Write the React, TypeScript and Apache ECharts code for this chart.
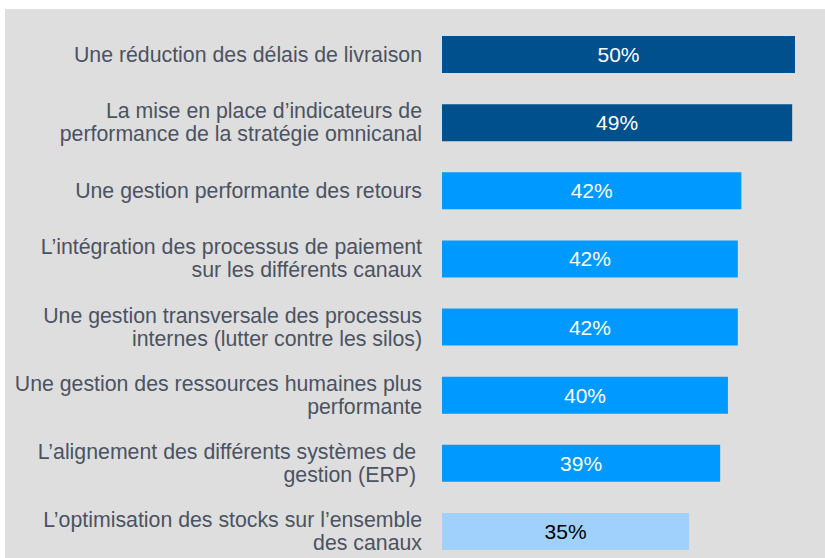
import React, { useEffect, useRef } from "react";
import * as echarts from "echarts";

const categories = [
  "Une réduction des délais de livraison",
  "La mise en place d’indicateurs de\nperformance de la stratégie omnicanal",
  "Une gestion performante des retours",
  "L’intégration des processus de paiement\nsur les différents canaux",
  "Une gestion transversale des processus\ninternes (lutter contre les silos)",
  "Une gestion des ressources humaines plus\nperformante",
  "L’alignement des différents systèmes de \ngestion (ERP) ",
  "L’optimisation des stocks sur l’ensemble\ndes canaux",
];
const values = [50, 49.6, 42.4, 41.9, 41.9, 40.5, 39.4, 35];
const valueLabels = ["50%", "49%", "42%", "42%", "42%", "40%", "39%", "35%"];
const barColors = [
  "#00508e",
  "#00508e",
  "#0099ff",
  "#0099ff",
  "#0099ff",
  "#0099ff",
  "#0099ff",
  "#9fd1fc",
];
const labelColors = ["#ffffff", "#ffffff", "#ffffff", "#ffffff", "#ffffff", "#ffffff", "#ffffff", "#000000"];

export default function App() {
  const ref = useRef<HTMLDivElement>(null);
  useEffect(() => {
    document.body.style.margin = "0";
    const chart = echarts.init(ref.current!, null, { renderer: "svg" });
    chart.setOption({
      animation: false,
      backgroundColor: "#ffffff",
      graphic: [
        {
          type: "rect",
          z: -10,
          shape: { x: 5, y: 9, width: 825, height: 560 },
          style: { fill: "#dedede" },
          silent: true,
        },
      ],
      grid: {
        left: 442,
        top: 20.5,
        width: 353,
        height: 545,
        containLabel: false,
        outerBoundsMode: "none",
      },
      xAxis: {
        type: "value",
        min: 0,
        max: 50,
        show: false,
        splitLine: { show: false },
      },
      yAxis: {
        type: "category",
        inverse: true,
        data: categories,
        axisLine: { show: false },
        axisTick: { show: false },
        axisLabel: {
          margin: 20,
          align: "right",
          fontFamily: "Liberation Sans, Arial, sans-serif",
          fontSize: 21.3,
          lineHeight: 23,
          color: "#4b5362",
        },
      },
      series: [
        {
          type: "bar",
          barWidth: 37,
          data: values.map((v, i) => ({
            value: v,
            itemStyle: { color: barColors[i] },
            label: { color: labelColors[i] },
          })),
          label: {
            show: true,
            position: "inside",
            fontFamily: "Liberation Sans, Arial, sans-serif",
            fontSize: 21,
            formatter: (p: any) => valueLabels[p.dataIndex],
          },
        },
      ],
    });
    return () => chart.dispose();
  }, []);
  return <div ref={ref} style={{ width: 825, height: 558 }} />;
}
